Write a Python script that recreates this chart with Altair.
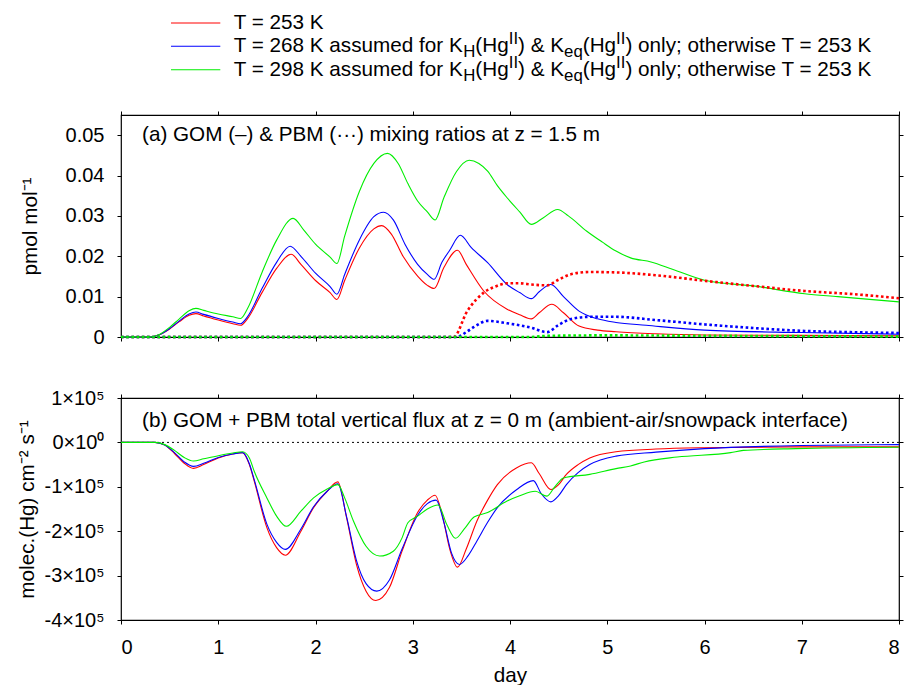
import altair as alt
import pandas as pd

# ---------------- data ----------------
SERIES = ["T = 253 K", "T = 268 K", "T = 298 K"]
COLORS = ["#ff0000", "#0000ff", "#00ee00"]

# panel (a): GOM mixing ratio (pmol/mol), solid
gom_red_day = [0.0, 0.3, 0.4, 0.5, 0.6, 0.7, 0.77, 0.85, 1.0, 1.15, 1.23, 1.3, 1.45, 1.6, 1.75, 1.85, 2.0, 2.15, 2.22,
               2.3, 2.45, 2.6, 2.68, 2.78, 2.9, 3.05, 3.15, 3.22, 3.32, 3.46, 3.55, 3.73, 3.97, 4.1, 4.22, 4.3, 4.43,
               4.55, 4.71, 4.9, 5.09, 5.5, 6.0, 7.0, 8.0]
gom_red_val = [0.0, 0.0, 0.0006, 0.0020, 0.0038, 0.0054, 0.0058, 0.0052, 0.0042, 0.0033, 0.0029, 0.0045, 0.0110, 0.0170,
               0.0205, 0.0180, 0.0140, 0.0110, 0.0093, 0.0140, 0.0220, 0.0268, 0.0276, 0.0255, 0.0200, 0.0151, 0.0128,
               0.0120, 0.0172, 0.0215, 0.0180, 0.0114, 0.0069, 0.0055, 0.0045, 0.0060, 0.0081, 0.0060, 0.0027, 0.0017,
               0.0013, 0.0008, 0.0005, 0.0004, 0.0003]

gom_blue_day = [0.0, 0.3, 0.4, 0.5, 0.6, 0.7, 0.77, 0.85, 1.0, 1.15, 1.23, 1.3, 1.45, 1.6, 1.74, 1.85, 2.0, 2.15, 2.22,
                2.3, 2.45, 2.6, 2.7, 2.8, 2.92, 3.05, 3.15, 3.22, 3.3, 3.38, 3.49, 3.6, 3.77, 3.97, 4.1, 4.22, 4.3,
                4.42, 4.55, 4.71, 4.9, 5.09, 5.4, 6.0, 7.0, 8.0]
gom_blue_val = [0.0, 0.0, 0.0006, 0.0021, 0.0040, 0.0057, 0.0062, 0.0056, 0.0046, 0.0037, 0.0033, 0.0050, 0.0120,
                0.0185, 0.0225, 0.0200, 0.0158, 0.0125, 0.0106, 0.0155, 0.0240, 0.0298, 0.0309, 0.0290, 0.0230,
                0.0180, 0.0155, 0.0143, 0.0185, 0.0215, 0.0252, 0.0222, 0.0184, 0.0130, 0.0110, 0.0095, 0.0112,
                0.0130, 0.0100, 0.0064, 0.0045, 0.0036, 0.0029, 0.0017, 0.0011, 0.0007]

gom_green_day = [0.0, 0.3, 0.4, 0.5, 0.6, 0.7, 0.77, 0.85, 1.0, 1.15, 1.23, 1.3, 1.45, 1.6, 1.77, 1.88, 2.0, 2.15, 2.22,
                 2.3, 2.45, 2.6, 2.74, 2.85, 2.95, 3.05, 3.15, 3.23, 3.32, 3.45, 3.58, 3.68, 3.77, 3.87, 3.97, 4.1,
                 4.22, 4.34, 4.49, 4.6, 4.79, 4.95, 5.09, 5.24, 5.45, 5.67, 6.01, 6.52, 7.03, 7.37, 8.0]
gom_green_val = [0.0, 0.0, 0.0007, 0.0024, 0.0045, 0.0065, 0.0071, 0.0066, 0.0057, 0.0050, 0.0046, 0.0070, 0.0160,
                 0.0240, 0.0294, 0.0265, 0.0230, 0.0198, 0.0182, 0.0250, 0.0360, 0.0430, 0.0455, 0.0430, 0.0380,
                 0.0337, 0.0310, 0.0290, 0.0345, 0.0410, 0.0438, 0.0430, 0.0411, 0.0375, 0.0345, 0.0310, 0.0279,
                 0.0295, 0.0316, 0.0300, 0.0262, 0.0235, 0.0213, 0.0196, 0.0186, 0.0168, 0.0140, 0.0126, 0.0107,
                 0.0100, 0.0087]

# panel (a): PBM mixing ratio (pmol/mol), dotted
pbm_red_day = [0.0, 3.42, 3.56, 3.65, 3.73, 3.85, 3.97, 4.1, 4.22, 4.38, 4.5, 4.62, 4.82, 5.09, 5.5, 6.01, 6.52,
               7.03, 7.54, 8.0]
pbm_red_val = [0.0, 0.0, 0.0064, 0.0092, 0.0110, 0.0125, 0.0133, 0.0133, 0.0130, 0.0128, 0.0142, 0.0155, 0.0161,
               0.0160, 0.0153, 0.0139, 0.0126, 0.0114, 0.0106, 0.0096]
pbm_blue_day = [0.0, 3.45, 3.55, 3.63, 3.77, 3.97, 4.22, 4.38, 4.5, 4.62, 4.82, 5.09, 5.5, 6.01, 6.52, 7.03, 7.5, 8.0]
pbm_blue_val = [0.0, 0.0, 0.0012, 0.0025, 0.0040, 0.0034, 0.0023, 0.0012, 0.0030, 0.0044, 0.0050, 0.0050, 0.0042,
                0.0031, 0.0022, 0.0015, 0.0012, 0.0010]
pbm_green_day = [0.0, 4.2, 4.4, 5.0, 6.0, 7.0, 8.0]
pbm_green_val = [0.0, 0.0, 0.0003, 0.0004, 0.0003, 0.0002, 0.0001]

# panel (b): GOM + PBM total vertical flux (molec. cm^-2 s^-1), solid
flux_red_day = [0.0, 0.35, 0.45, 0.55, 0.65, 0.745, 0.85, 1.0, 1.15, 1.25, 1.32, 1.37, 1.5, 1.6, 1.69, 1.85, 1.98,
                2.12, 2.23, 2.32, 2.42, 2.52, 2.62, 2.76, 2.89, 3.05, 3.15, 3.23, 3.3, 3.38, 3.46, 3.55, 3.66, 3.77,
                3.87, 4.07, 4.22, 4.3, 4.42, 4.5, 4.58, 4.7, 4.82, 5.09, 5.5, 6.0, 7.0, 8.0]
flux_red_val = [0.0, 0.0, -6e3, -2.5e4, -4.7e4, -5.86e4, -5.0e4, -3.5e4, -2.6e4, -2.3e4, -5.0e4, -8.7e4, -1.92e5,
                -2.37e5, -2.54e5, -2.0e5, -1.47e5, -1.1e5, -8.9e4, -1.7e5, -2.74e5, -3.35e5, -3.56e5, -3.27e5,
                -2.45e5, -1.58e5, -1.3e5, -1.19e5, -1.6e5, -2.4e5, -2.81e5, -2.4e5, -1.77e5, -1.3e5, -9.5e4, -5.7e4,
                -4.6e4, -7.0e4, -1.06e5, -9.5e4, -7.2e4, -5.0e4, -3.5e4, -2.1e4, -1.5e4, -1.2e4, -1.0e4, -1.0e4]

flux_blue_day = [0.0, 0.35, 0.45, 0.55, 0.65, 0.745, 0.85, 1.0, 1.15, 1.25, 1.32, 1.37, 1.5, 1.6, 1.69, 1.85, 1.98,
                 2.12, 2.23, 2.32, 2.42, 2.52, 2.63, 2.76, 2.89, 3.05, 3.15, 3.24, 3.32, 3.4, 3.48, 3.57, 3.66, 3.77,
                 3.87, 4.07, 4.24, 4.32, 4.42, 4.5, 4.58, 4.7, 4.82, 5.09, 5.5, 6.0, 7.0, 8.0]
flux_blue_val = [0.0, 0.0, -6e3, -2.3e4, -4.4e4, -5.4e4, -4.7e4, -3.4e4, -2.6e4, -2.3e4, -4.8e4, -8.4e4, -1.84e5,
                 -2.25e5, -2.41e5, -1.95e5, -1.45e5, -1.1e5, -9.3e4, -1.68e5, -2.65e5, -3.18e5, -3.35e5, -3.1e5,
                 -2.4e5, -1.64e5, -1.38e5, -1.3e5, -1.8e5, -2.5e5, -2.75e5, -2.55e5, -2.22e5, -1.8e5, -1.47e5,
                 -1.06e5, -8.6e4, -1.15e5, -1.34e5, -1.2e5, -9.5e4, -6.8e4, -5.0e4, -3.1e4, -2.2e4, -1.4e4, -7e3,
                 -5e3]

flux_green_day = [0.0, 0.35, 0.45, 0.55, 0.65, 0.745, 0.85, 1.0, 1.15, 1.25, 1.32, 1.37, 1.5, 1.6, 1.7, 1.85, 1.98,
                  2.12, 2.23, 2.3, 2.39, 2.52, 2.66, 2.8, 2.89, 2.95, 3.05, 3.15, 3.26, 3.35, 3.44, 3.53, 3.63, 3.77,
                  3.97, 4.1, 4.26, 4.38, 4.46, 4.55, 4.82, 5.09, 5.24, 5.38, 5.72, 6.27, 6.4, 6.94, 8.0]
flux_green_val = [0.0, 0.0, -5e3, -1.8e4, -3.4e4, -4.2e4, -3.7e4, -3.0e4, -2.4e4, -2.1e4, -3.5e4, -6.5e4, -1.25e5,
                  -1.66e5, -1.89e5, -1.55e5, -1.25e5, -1.05e5, -9.5e4, -1.25e5, -1.77e5, -2.34e5, -2.56e5, -2.45e5,
                  -2.15e5, -1.81e5, -1.66e5, -1.5e5, -1.41e5, -1.85e5, -2.16e5, -1.95e5, -1.68e5, -1.58e5, -1.32e5,
                  -1.2e5, -1.1e5, -1.21e5, -1.0e5, -8.0e4, -7.2e4, -5.9e4, -5.3e4, -4.4e4, -3.3e4, -2.3e4, -1.8e4,
                  -1.4e4, -1.1e4]

X_TICKS = [0, 1, 2, 3, 4, 5, 6, 7, 8]
A_TICKS = [0.0, 0.01, 0.02, 0.03, 0.04, 0.05]
B_TICKS = [1e5, 0.0, -1e5, -2e5, -3e5, -4e5]

PANEL_A_LABEL = "(a) GOM (–) & PBM (···) mixing ratios at z = 1.5 m"
PANEL_B_LABEL = "(b) GOM + PBM total vertical flux at z = 0 m (ambient-air/snowpack interface)"

# legend rows: (text, style) segments; style n = normal, b = subscript, p = superscript
LEGEND_ROWS = [
    [("T = 253 K", "n")],
    [("T = 268 K assumed for K", "n"), ("H", "b"), ("(Hg", "n"), ("II", "p"), (") & K", "n"), ("eq", "b"),
     ("(Hg", "n"), ("II", "p"), (") only; otherwise T = 253 K", "n")],
    [("T = 298 K assumed for K", "n"), ("H", "b"), ("(Hg", "n"), ("II", "p"), (") & K", "n"), ("eq", "b"),
     ("(Hg", "n"), ("II", "p"), (") only; otherwise T = 253 K", "n")],
]

# ---------------- styling / layout ----------------
FONT = "Liberation Sans"
FS = 20.7
FS_SMALL = 16.8
TICK_FS = 20
W, H = 778, 222

ARIAL = {"T": 611, "=": 584, " ": 278, "K": 667, "a": 556, "s": 500, "u": 556, "m": 833, "e": 556, "d": 556,
         "f": 278, "o": 556, "r": 333, "(": 333, ")": 333, "H": 722, "g": 556, "I": 278, "&": 667, "q": 556,
         "n": 556, "l": 222, "y": 500, ";": 278, "t": 278, "h": 556, "w": 722, "i": 222}


def text_width(s, size):
    return sum(ARIAL.get(c, 556) for c in s) * size / 1000.0


def series_frame(days, vals, name):
    return pd.DataFrame({"day": days, "value": vals, "series": name})


gom = pd.concat([series_frame(gom_red_day, gom_red_val, SERIES[0]),
                 series_frame(gom_blue_day, gom_blue_val, SERIES[1]),
                 series_frame(gom_green_day, gom_green_val, SERIES[2])])
pbm = pd.concat([series_frame(pbm_red_day, pbm_red_val, SERIES[0]),
                 series_frame(pbm_blue_day, pbm_blue_val, SERIES[1]),
                 series_frame(pbm_green_day, pbm_green_val, SERIES[2])])
flux = pd.concat([series_frame(flux_red_day, flux_red_val, SERIES[0]),
                  series_frame(flux_blue_day, flux_blue_val, SERIES[1]),
                  series_frame(flux_green_day, flux_green_val, SERIES[2])])

color = alt.Color("series:N", scale=alt.Scale(domain=SERIES, range=COLORS), legend=None)
xscale = alt.Scale(domain=[0, 8], nice=False, zero=False)
ascale = alt.Scale(domain=[0, 0.055], nice=False)
bscale = alt.Scale(domain=[-4e5, 1e5], nice=False)


def x_axis(orient, labels, title=None):
    kw = dict(orient=orient, values=X_TICKS, labels=labels, domain=False, grid=False, tickSize=4)
    if labels:
        kw.update(labelPadding=13, format="d", title=title, titlePadding=8)
    else:
        kw.update(title=None, labelPadding=0)
    return alt.Axis(**kw)


def y_axis_left(values, label_expr, title, title_x):
    return alt.Axis(orient="left", values=values, labelExpr=label_expr, domain=False, grid=False, tickSize=4,
                    labelPadding=13, title=title, titleX=title_x, titleY=H / 2, titleBaseline="middle",
                    titleAngle=270)


def y_axis_right(values):
    return alt.Axis(orient="right", values=values, labels=False, domain=False, grid=False, tickSize=4, title=None,
                    labelPadding=0)


# ---------------- panel (a) ----------------
a_lines = alt.Chart(gom).mark_line(strokeWidth=1.1, interpolate="monotone").encode(
    x=alt.X("day:Q", scale=xscale, axis=x_axis("bottom", False)),
    y=alt.Y("value:Q", scale=ascale,
            axis=y_axis_left(A_TICKS, "datum.value == 0 ? '0' : format(datum.value, '.2f')", "pmol mol⁻¹",
                             -90.8)),
    color=color,
)
a_dots = alt.Chart(pbm).mark_line(strokeWidth=2.6, strokeDash=[2.6, 2.6], interpolate="monotone").encode(
    x=alt.X("day:Q", scale=xscale, axis=None),
    y=alt.Y("value:Q", scale=ascale, axis=None),
    color=color,
)
a_axes = alt.Chart(gom).mark_point(opacity=0, size=1).encode(
    x=alt.X("day:Q", scale=xscale, axis=x_axis("top", False)),
    y=alt.Y("value:Q", scale=ascale, axis=y_axis_right(A_TICKS)),
)
a_label = alt.Chart(pd.DataFrame({"t": [PANEL_A_LABEL]})).mark_text(
    align="left", baseline="middle", font=FONT, fontSize=FS, color="black").encode(
    text="t:N", x=alt.value(21), y=alt.value(20))

# legend (drawn above panel a)
seg_rows = []
line_rows = []
row_y = [-92, -68.7, -45.3]
for i, row in enumerate(LEGEND_ROWS):
    x0 = 112.7
    for txt, style in row:
        size = FS if style == "n" else FS_SMALL
        dy = 0 if style == "n" else (6 if style == "b" else -7)
        seg_rows.append({"x": x0, "y": row_y[i] + dy, "t": txt, "s": size})
        x0 += text_width(txt, size)
    line_rows.append({"x": 50, "x2": 99.3, "y": row_y[i], "c": COLORS[i]})

leg_text = alt.Chart(pd.DataFrame(seg_rows)).mark_text(
    align="left", baseline="middle", font=FONT, color="black").encode(
    x=alt.X("x:Q", scale=None, axis=None), y=alt.Y("y:Q", scale=None, axis=None),
    text="t:N", size=alt.Size("s:Q", scale=None, legend=None))
leg_lines = alt.Chart(pd.DataFrame(line_rows)).mark_rule(strokeWidth=1.1).encode(
    x=alt.X("x:Q", scale=None, axis=None), x2="x2:Q", y=alt.Y("y:Q", scale=None, axis=None),
    color=alt.Color("c:N", scale=None, legend=None))

panel_a = alt.layer(a_lines, a_dots, a_axes, a_label, leg_lines, leg_text).resolve_axis(
    x="independent", y="independent").properties(width=W, height=H)

# ---------------- panel (b) ----------------
b_zero = alt.Chart(pd.DataFrame({"value": [0.0]})).mark_rule(
    color="black", strokeWidth=1, strokeDash=[2, 3]).encode(
    y=alt.Y("value:Q", scale=bscale, axis=None))
b_lines = alt.Chart(flux).mark_line(strokeWidth=1.1, interpolate="monotone").encode(
    x=alt.X("day:Q", scale=xscale, axis=x_axis("bottom", True, "day")),
    y=alt.Y("value:Q", scale=bscale,
            axis=y_axis_left(B_TICKS, "datum.value == 0 ? '0×10⁰' : (datum.value / 100000) + '×10⁵'",
                             "molec.(Hg) cm⁻² s⁻¹", -93.3)),
    color=color,
)
b_axes = alt.Chart(flux).mark_point(opacity=0, size=1).encode(
    x=alt.X("day:Q", scale=xscale, axis=x_axis("top", False)),
    y=alt.Y("value:Q", scale=bscale, axis=y_axis_right(B_TICKS)),
)
b_label = alt.Chart(pd.DataFrame({"t": [PANEL_B_LABEL]})).mark_text(
    align="left", baseline="middle", font=FONT, fontSize=FS, color="black").encode(
    text="t:N", x=alt.value(21), y=alt.value(22.6))

panel_b = alt.layer(b_zero, b_lines, b_axes, b_label).resolve_axis(
    x="independent", y="independent").properties(width=W, height=H)

chart = alt.vconcat(panel_a, panel_b, spacing=39).properties(
    padding={"left": 8, "top": 3, "right": 0, "bottom": 0},
    background="white",
).configure_view(stroke="black", strokeWidth=1.2).configure_axis(
    labelFont=FONT, labelFontSize=TICK_FS, labelColor="black",
    titleFont=FONT, titleFontSize=FS, titleFontWeight="normal", titleColor="black",
    tickColor="black", tickWidth=1,
)

chart.save("out.html", embed_options={"renderer": "svg", "actions": False})
